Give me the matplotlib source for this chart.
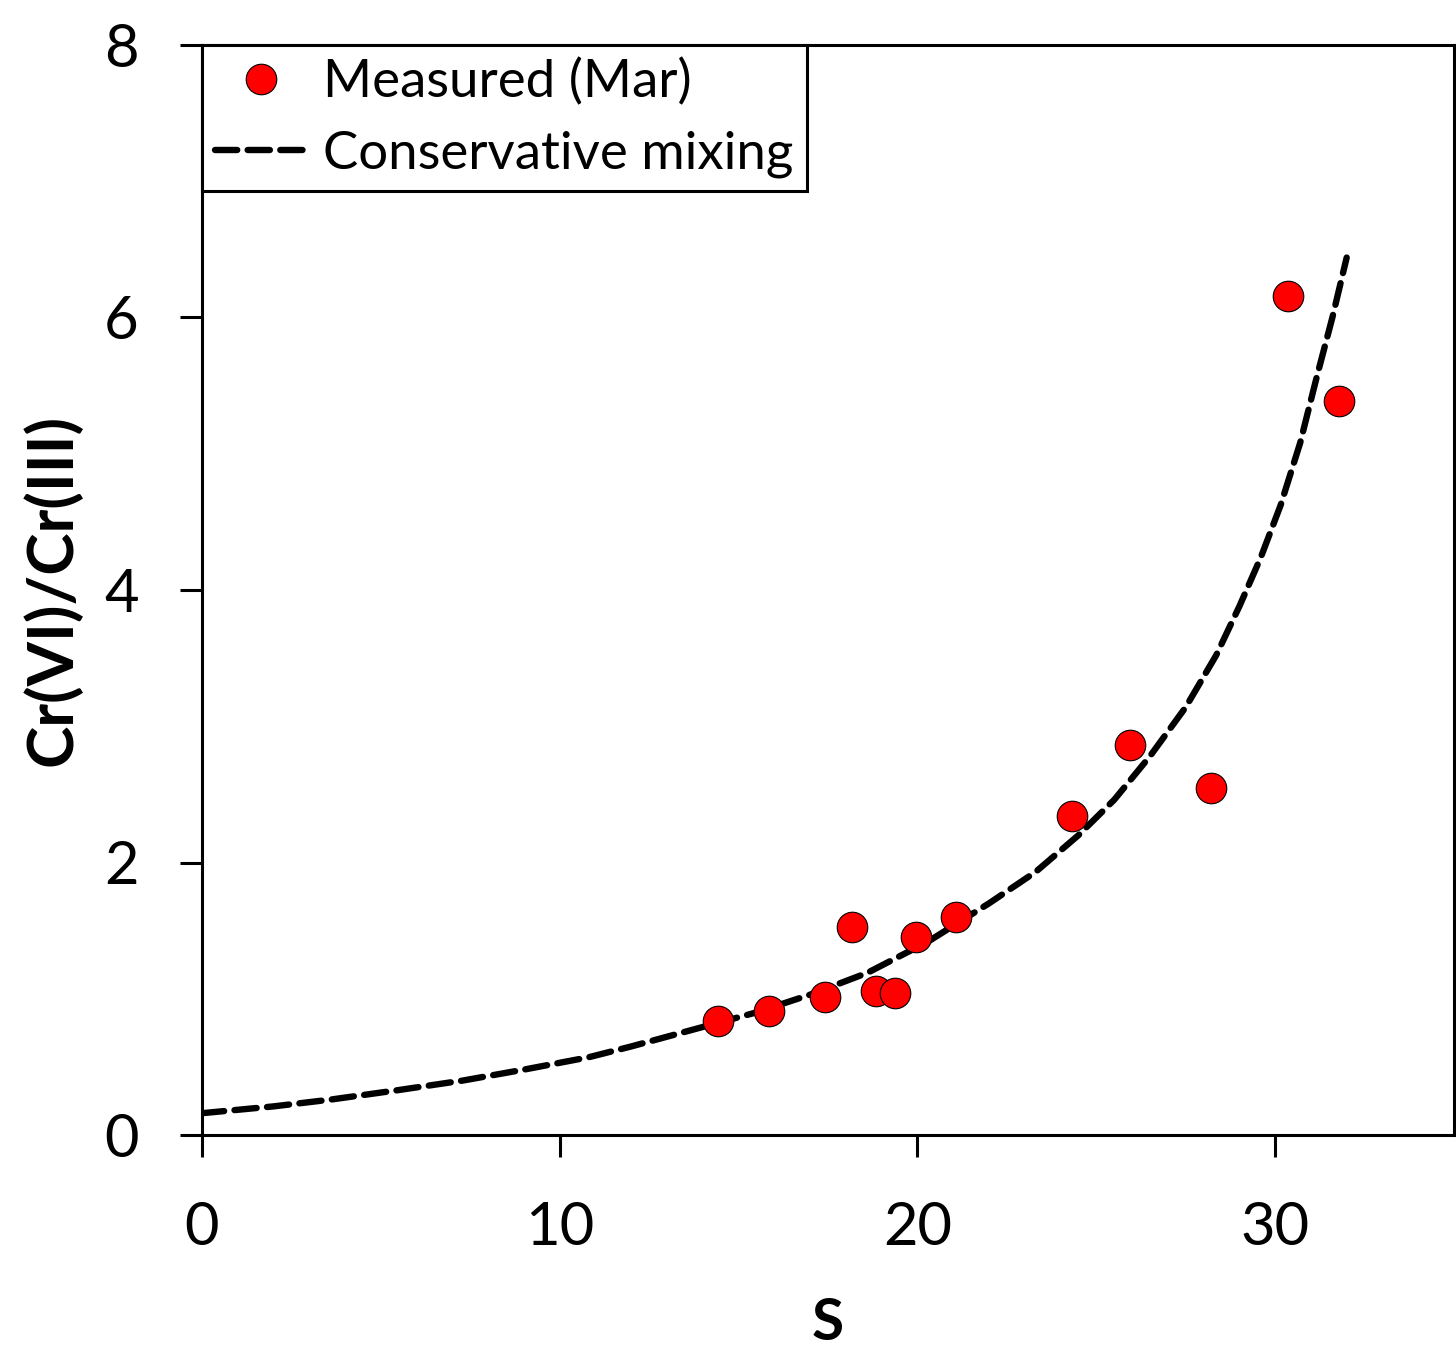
import matplotlib
matplotlib.use("Agg")
import matplotlib.pyplot as plt

# Measured data (Mar)
salinity = [14.43, 15.86, 17.43, 18.18, 18.85, 19.36, 19.97, 21.09, 24.31, 25.93, 28.20, 30.35, 31.78]
ratio = [0.84, 0.91, 1.01, 1.53, 1.06, 1.04, 1.45, 1.60, 2.34, 2.86, 2.55, 6.16, 5.39]

# Conservative mixing curve
mix_s = [0, 2.0, 3.6, 5.5, 7.3, 9.0, 10.8, 12.0, 13.4, 15.5, 17.0, 18.6, 20.3, 22.0, 23.3, 24.5,
         25.5, 26.5, 27.5, 28.35, 29.0, 29.6, 30.15, 30.7, 31.15, 31.6, 32.0]
mix_r = [0.16, 0.21, 0.26, 0.33, 0.40, 0.48, 0.57, 0.65, 0.75, 0.90, 1.03, 1.19, 1.42, 1.70, 1.93, 2.20,
         2.46, 2.78, 3.14, 3.52, 3.88, 4.24, 4.62, 5.08, 5.55, 6.00, 6.44]

x_ticks = [0, 10, 20, 30]
y_ticks = [0, 2, 4, 6, 8]

plt.rcParams['font.family'] = ['Lato', 'DejaVu Sans']
plt.rcParams['lines.scale_dashes'] = False

W, H = 1456, 1351
fig = plt.figure(figsize=(W / 100, H / 100), dpi=100)
ax = fig.add_axes([202 / W, 1 - 1135 / H, (1454 - 202) / W, (1135 - 45) / H])

line, = ax.plot(mix_s, mix_r, color='black', lw=4.6, linestyle=(0, (16, 7.5)),
                dash_capstyle='round', label='Conservative mixing', zorder=2)
sc, = ax.plot(salinity, ratio, linestyle='none', marker='o', markersize=22,
              markerfacecolor='#ff0000', markeredgecolor='black', markeredgewidth=0.8,
              label='Measured (Mar)', zorder=3)

ax.set_xlim(0, 35)
ax.set_ylim(0, 8)
ax.set_xticks(x_ticks)
ax.set_yticks(y_ticks)

for s in ax.spines.values():
    s.set_linewidth(2.2)
ax.tick_params(axis='both', direction='out', length=15.5, width=2.2,
               labelsize=43, colors='black')
ax.tick_params(axis='x', pad=32)
ax.tick_params(axis='y', pad=30)

ax.set_xlabel('S', fontsize=42, fontweight='bold', labelpad=30)
ax.set_ylabel('Cr(VI)/Cr(III)', fontsize=46, fontweight='bold', labelpad=16)

leg = ax.legend(handles=[sc, line], loc='upper left', bbox_to_anchor=(0, 1),
                borderaxespad=0, fancybox=False, frameon=True, fontsize=38,
                handlelength=1.75, handletextpad=0.3, borderpad=0.25,
                labelspacing=0.45, framealpha=1)
leg.get_frame().set_edgecolor('black')
leg.get_frame().set_linewidth(2.2)

fig.savefig('out.png', dpi=100)
